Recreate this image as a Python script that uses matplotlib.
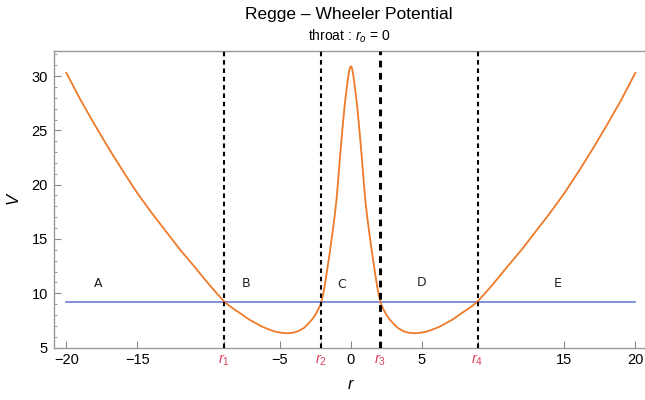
import numpy as np
import matplotlib
matplotlib.use('Agg')
import matplotlib.pyplot as plt
from matplotlib.ticker import MultipleLocator

# ==== Data ====
r_vals = [-20.0, -19.0, -18.0, -17.0, -16.0, -15.0, -14.0, -13.0, -12.0, -11.0,
          -10.0, -9.5, -8.9, -8.5, -8.12, -7.6, -7.18, -6.7, -6.24, -5.8,
          -5.31, -4.9, -4.45, -4.05, -3.67, -3.3, -2.97, -2.75, -2.5, -2.3,
          -2.15, -2.07, -1.95, -1.85, -1.66, -1.5, -1.30, -1.15, -1.02, -0.9,
          -0.78, -0.67, -0.56, -0.43, -0.30, -0.20, -0.13, -0.06, 0.0,
          0.06, 0.13, 0.20, 0.30, 0.43, 0.56, 0.67, 0.78, 0.9, 1.02,
          1.15, 1.30, 1.5, 1.66, 1.85, 1.95, 2.07, 2.15, 2.3, 2.5,
          2.75, 2.97, 3.3, 3.67, 4.05, 4.45, 4.9, 5.31, 5.8, 6.24,
          6.7, 7.18, 7.6, 8.12, 8.5, 8.9, 9.5, 10.0, 11.0, 12.0,
          13.0, 14.0, 15.0, 16.0, 17.0, 18.0, 19.0, 20.0]
V_vals = [30.3, 27.8, 25.5, 23.3, 21.2, 19.2, 17.4, 15.7, 14.0, 12.45,
          10.85, 10.1, 9.22, 8.8, 8.45, 8.0, 7.6, 7.25, 6.92, 6.68,
          6.46, 6.36, 6.31, 6.36, 6.52, 6.8, 7.23, 7.55, 8.0, 8.5,
          8.9, 9.22, 9.9, 10.6, 12.2, 13.6, 15.5, 17.0, 18.5, 20.3,
          22.3, 24.0, 25.6, 27.4, 28.8, 29.8, 30.4, 30.8, 30.9,
          30.8, 30.4, 29.8, 28.8, 27.4, 25.6, 24.0, 22.3, 20.3, 18.5,
          17.0, 15.5, 13.6, 12.2, 10.6, 9.9, 9.22, 8.9, 8.5, 8.0,
          7.55, 7.23, 6.8, 6.52, 6.36, 6.31, 6.36, 6.46, 6.68, 6.92,
          7.25, 7.6, 8.0, 8.45, 8.8, 9.22, 10.1, 10.85, 12.45, 14.0,
          15.7, 17.4, 19.2, 21.2, 23.3, 25.5, 27.8, 30.3]

energy_level = 9.22
turning_pts = [-8.9, -2.07, 2.07, 8.9]
turning_lw = [1.5, 1.5, 2.2, 1.5]

region_names = ['A', 'B', 'C', 'D', 'E']
region_r = [-17.75, -7.35, -0.68, 4.96, 14.52]
region_V = [10.85, 10.85, 10.76, 11.0, 10.85]

num_ticks = [-20, -15, -5, 0, 5, 15, 20]
num_labels = ['\u221220', '\u221215', '\u22125', '0', '5', '15', '20']
r_labels = ['$r_1$', '$r_2$', '$r_3$', '$r_4$']

# ==== Plot ====
plt.rcParams['font.family'] = ['Liberation Sans', 'DejaVu Sans']
plt.rcParams['mathtext.fontset'] = 'custom'
plt.rcParams['mathtext.it'] = 'Liberation Sans:italic'
plt.rcParams['mathtext.rm'] = 'Liberation Sans'

fig = plt.figure(figsize=(6.45, 4.0), dpi=100)
ax = fig.add_axes([0.083, 0.13125, 0.922, 0.741])

ax.plot(r_vals, V_vals, color='#ee7a2a', lw=1.3, zorder=3)
# energy level only spans the plotted r range
ax.plot([r_vals[0], r_vals[-1]], [energy_level, energy_level],
        color='#6b7fd7', lw=1.2, zorder=2)

for x, lw in zip(turning_pts, turning_lw):
    ax.axvline(x, color='black', lw=lw, linestyle=(0, (2.2, 1.8)), zorder=4)

for name, x, y in zip(region_names, region_r, region_V):
    ax.text(x, y, name, fontsize=9, ha='center', va='center', color='#222222',
            family=['DejaVu Sans'])

ax.set_xlim(-20.9, 20.9)
ax.set_ylim(5, 32.3)

ticks = num_ticks + turning_pts
labels = num_labels + r_labels
ax.set_xticks(ticks)
ax.set_xticklabels(labels, fontsize=10.5)
for lab in ax.get_xticklabels():
    if lab.get_text().startswith('$'):
        lab.set_color('#e0405a')
        lab.set_fontsize(11)

ax.set_yticks([5, 10, 15, 20, 25, 30])
ax.yaxis.set_minor_locator(MultipleLocator(1))
ax.tick_params(axis='both', direction='in', length=5, width=0.8,
               color='#888888', labelsize=10.5, pad=4)
ax.tick_params(axis='y', which='minor', direction='in', length=2.5,
               width=0.6, color='#888888')
for s in ax.spines.values():
    s.set_color('#999999')
    s.set_linewidth(1.0)

ax.set_xlabel('$r$', fontsize=12, labelpad=6)
ax.set_ylabel('$V$', fontsize=12, labelpad=7)

fig.text(0.541, 0.965, 'Regge \u2013 Wheeler Potential', fontsize=12.5,
         ha='center', va='center')
fig.text(0.541, 0.91, 'throat : $r_o$ = 0', fontsize=10,
         ha='center', va='center')

fig.savefig('out.png', dpi=100)
